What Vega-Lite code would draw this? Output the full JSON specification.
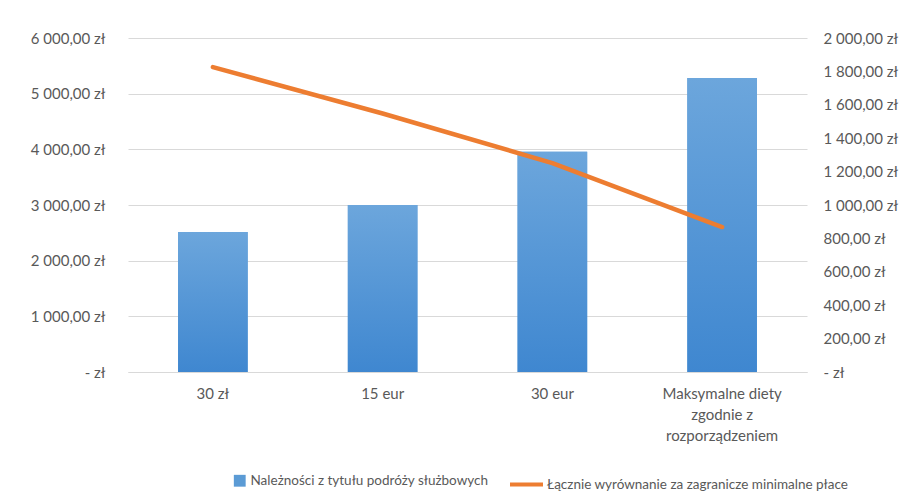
{
  "$schema": "https://vega.github.io/schema/vega-lite/v6.json",
  "width": 679,
  "height": 334,
  "autosize": {"type": "none"},
  "padding": {"left": 128, "top": 38, "right": 107, "bottom": 132},
  "background": "white",
  "config": {
    "view": {"stroke": null},
    "font": "Lato",
    "axis": {"labelFont": "Lato", "labelFontSize": 15, "labelColor": "#595959"},
    "legend": {"labelFont": "Lato", "labelFontSize": 13.5, "labelColor": "#595959", "labelLimit": 600, "padding": 0}
  },
  "data": {
    "values": [
      {"cat": "30 zł", "bar": 2515, "line": 1826},
      {"cat": "15 eur", "bar": 3000, "line": 1548},
      {"cat": "30 eur", "bar": 3955, "line": 1251},
      {"cat": "Maksymalne diety zgodnie z rozporządzeniem", "bar": 5280, "line": 868}
    ]
  },
  "encoding": {
    "x": {
      "field": "cat", "type": "nominal", "sort": null,
      "scale": {"paddingInner": 0.59, "paddingOuter": 0.295},
      "axis": {
        "title": null, "labelAngle": 0, "ticks": false, "domainColor": "#D9D9D9",
        "labelPadding": 14, "labelLineHeight": 21, "labelBaseline": "top",
        "labelExpr": "datum.label == 'Maksymalne diety zgodnie z rozporządzeniem' ? ['Maksymalne diety', 'zgodnie z', 'rozporządzeniem'] : datum.label"
      }
    }
  },
  "layer": [
    {
      "layer": [
        {
          "mark": {"type": "bar"},
          "encoding": {
            "y": {
              "field": "bar", "type": "quantitative",
              "scale": {"domain": [0, 6000], "nice": false},
              "axis": {
                "title": null, "orient": "left", "values": [0, 1000, 2000, 3000, 4000, 5000, 6000],
                "grid": true, "gridColor": "#D9D9D9", "domain": false, "ticks": false, "labelPadding": 23,
                "labelExpr": "datum.value == 0 ? '-   zł' : replace(replace(format(datum.value, ',.2f'), ',', ' '), '.', ',') + ' zł'"
              }
            },
            "fill": {
              "datum": "Należności z tytułu podróży służbowych",
              "scale": {"range": ["#5B9BD5"]},
              "legend": {"title": null, "orient": "none", "legendX": 105, "legendY": 436, "symbolType": "square", "symbolSize": 140, "symbolStrokeWidth": 0, "labelOffset": 4}
            }
          }
        },
        {
          "mark": {
            "type": "bar",
            "fill": {"gradient": "linear", "x1": 0, "y1": 0, "x2": 0, "y2": 1, "stops": [{"offset": 0, "color": "#6CA6DC"}, {"offset": 1, "color": "#3F87D0"}]}
          },
          "encoding": {
            "y": {"field": "bar", "type": "quantitative"}
          }
        }
      ]
    },
    {
      "mark": {"type": "line", "strokeWidth": 4.5, "strokeCap": "round", "strokeJoin": "round"},
      "encoding": {
        "y": {
          "field": "line", "type": "quantitative",
          "scale": {"domain": [0, 2000], "nice": false},
          "axis": {
            "title": null, "orient": "right", "values": [0, 200, 400, 600, 800, 1000, 1200, 1400, 1600, 1800, 2000],
            "grid": false, "domain": false, "ticks": false, "labelPadding": 16,
            "labelExpr": "datum.value == 0 ? '-   zł' : replace(replace(format(datum.value, ',.2f'), ',', ' '), '.', ',') + ' zł'"
          }
        },
        "stroke": {
          "datum": "Łącznie wyrównanie za zagranicze minimalne płace",
          "scale": {"range": ["#ED7D31"]},
          "legend": {"title": null, "orient": "none", "legendX": 380, "legendY": 428, "symbolType": "stroke", "symbolSize": 1089, "symbolStrokeWidth": 4, "labelOffset": 2}
        }
      }
    }
  ],
  "resolve": {"scale": {"y": "independent"}}
}
